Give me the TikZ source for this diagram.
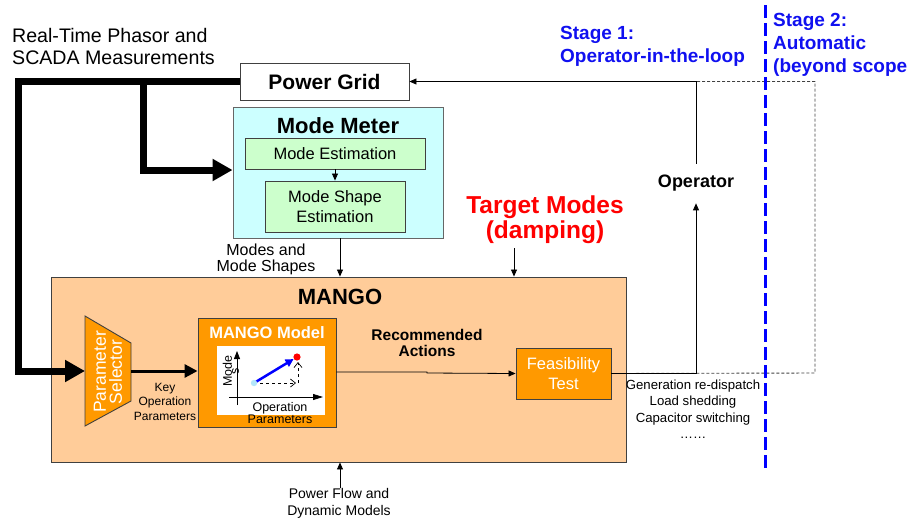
\documentclass[tikz,border=0pt]{standalone}
\usepackage{fontspec}
\setmainfont{Liberation Sans}
\usetikzlibrary{arrows.meta,calc}
\newcommand\fsz[2]{\fontsize{#1}{#2}\selectfont}
\definecolor{peach}{HTML}{FFCC99}
\definecolor{orng}{HTML}{FF9900}
\definecolor{cyanbg}{HTML}{CCFFFF}
\definecolor{greenbg}{HTML}{CCFFCC}
\definecolor{bord}{HTML}{404040}
\definecolor{stageblue}{HTML}{1010F0}
\tikzset{
  boxx/.style={draw=bord, line width=0.9pt, inner sep=0pt, align=center},
  thickarrow/.style={line width=7pt, -{Triangle[length=20pt,width=21pt]}},
  thinarrow/.style={line width=0.8pt, -{Triangle[length=7pt,width=6pt]}},
  lbl/.style={align=center, inner sep=0pt},
}
\begin{document}
\begin{tikzpicture}[x=1pt,y=-1pt]
\useasboundingbox (0,0) rectangle (911,523);

% texts top left
\node[lbl, anchor=west, align=left, font=\fsz{19.6}{22}] (rt) at (12,46) {Real-Time Phasor and\\SCADA Measurements};

% Power grid
\node[boxx, fill=white, minimum width=169, minimum height=37, font=\fsz{21}{24}\bfseries] (grid) at (324.5,81.5) {Power Grid};

% Mode meter
\node[boxx, fill=cyanbg, draw=bord!80, minimum width=210, minimum height=131] (mm) at (338,172.5) {};
\node[lbl, font=\fsz{22}{24}\bfseries] (mmt) at (338,126) {Mode Meter};
\node[boxx, fill=greenbg, minimum width=180, minimum height=31, font=\fsz{16.5}{20}] (me) at (335,153.5) {Mode Estimation};
\node[boxx, fill=greenbg, minimum width=140, minimum height=51, font=\fsz{16.5}{20}] (mse) at (335,206.5) {Mode Shape\\Estimation};
\draw[thinarrow] (me.south) -- (mse.north);

% MANGO
\node[boxx, fill=peach, minimum width=575, minimum height=185] (mango) at (338.5,369.5) {};
\node[lbl, font=\fsz{22}{24}\bfseries] (mangot) at (340,297) {MANGO};

% parameter selector
\draw[fill=orng, draw=bord, line width=0.9pt] (85,316) -- (131,343) -- (131,401) -- (85,426) -- cycle;
\node[lbl, minimum width=46, minimum height=110, rotate=90, text=white, font=\fsz{17.5}{16}] (ps) at (108,372) {Parameter\\Selector};
\coordinate (psw) at (85,371);
\coordinate (pse) at (131,371);

% MANGO model
\node[boxx, fill=orng, minimum width=138, minimum height=109] (model) at (267,372.5) {};
\node[lbl, text=white, font=\fsz{16.5}{18}\bfseries] (modelt) at (267,333) {MANGO Model};
\node[fill=white, minimum width=108, minimum height=69, inner sep=0pt] (chart) at (271,380.5) {};
\coordinate (yax0) at (237,405);
\coordinate (yax1) at (237,351);
\coordinate (xax0) at (229,397);
\coordinate (xax1) at (323,397);
\draw[line width=0.8pt, -{Triangle[length=8pt,width=6pt]}] (yax0) -- (yax1);
\draw[line width=0.8pt, -{Triangle[length=10pt,width=6pt]}] (xax0) -- (xax1);
\node[lbl, rotate=90, font=\fsz{12.5}{7}] (modes) at (231,371) {Mode\\s};
\node[lbl, font=\fsz{12.5}{11}] (oplab) at (280,413) {Operation\\Parameters};
\coordinate (p0) at (254,383);
\coordinate (p1) at (297,357);
\coordinate (p2) at (297,383);
\draw[blue, line width=2.5pt, -{Triangle[length=8pt,width=8pt]}] (p0) -- ($(p1)!4pt!(p0)$);
\draw[dashed, line width=0.7pt, -{Straight Barb[length=5pt,width=8pt]}] (p0) -- ($(p2)+(-1,0)$);
\draw[dashed, line width=0.7pt, -{Straight Barb[length=5pt,width=8pt]}] ($(p2)+(1,0)$) -- ($(p1)+(1,5)$);
\fill[cyan!30] (p0) circle (3.2);
\fill[red] (p1) circle (3.6);

% key operation parameters
\node[lbl, font=\fsz{12}{14.5}] (kop) at (165,401.5) {Key\\Operation\\Parameters};
\draw[line width=3pt, -{Triangle[length=13pt,width=13pt]}] (pse) -- (model.west |- pse);

% feasibility
\node[boxx, fill=orng, minimum width=95, minimum height=51, text=white, font=\fsz{16.5}{20}] (feas) at (563.5,373.5) {Feasibility\\Test};
\node[lbl, font=\fsz{15.5}{16}\bfseries] (ra) at (427,343) {Recommended\\Actions};
\draw[thinarrow] (model.east |- 0,372) -- (427,372) -- (427,373) -- (feas.west);

% thick measurement lines
\coordinate (c1) at (18,81.5);
\coordinate (c2) at (143,81.5);
\draw[thickarrow] (grid.west) -- (c1) |- (psw);
\draw[thickarrow] (c2) |- (mm.west |- 0,170);

% modes and mode shapes
\node[lbl, font=\fsz{16}{16}] (mms) at (266,259) {Modes and\\Mode Shapes};
\draw[thinarrow] (mm.south -| 340,0) -- (mango.north -| 340,0);

% target modes
\node[lbl, text=red, font=\fsz{24.5}{25}\bfseries] (tm) at (545,219.5) {Target Modes\\(damping)};
\coordinate (tma) at (514,248);
\draw[thinarrow] (tma) -- (mango.north -| tma);

% power flow
\node[lbl, font=\fsz{14}{17}] (pf) at (339,503.5) {Power Flow and\\Dynamic Models};
\coordinate (pfa) at (340,488);
\draw[thinarrow] (pfa) -- (mango.south -| pfa);

% operator
\node[lbl, font=\fsz{18}{20}\bfseries] (op) at (696,183) {Operator};
\coordinate (d1) at (815,373);
\draw[dash pattern=on 3pt off 2pt, draw=black!75, line width=0.9pt] (feas.east) -- (d1) -- (d1 |- grid.east) -- (grid.east);
\draw[thinarrow] (feas.east) -| ($(op.south)+(0,12)$);
\draw[thinarrow] ($(op.north)+(0,-11)$) |- (grid.east);

% actions list
\node[lbl, font=\fsz{13.2}{16.5}] (acts) at (693,409) {Generation re-dispatch\\Load shedding\\Capacitor switching\\……};

% stage labels
\coordinate (s0) at (765.5,5);
\coordinate (s1) at (765.5,470);
\draw[blue, line width=3pt, dash pattern=on 13pt off 5pt] (s0) -- (s1);
\node[lbl, anchor=west, align=left, text=stageblue, font=\fsz{19}{23}\bfseries] (st1) at (560,46.5) {Stage 1:\\Operator-in-the-loop};
\node[lbl, anchor=west, align=left, text=stageblue, font=\fsz{19}{23}\bfseries] (st2) at (773,45) {Stage 2:\\Automatic\\(beyond scope};
\end{tikzpicture}
\end{document}
